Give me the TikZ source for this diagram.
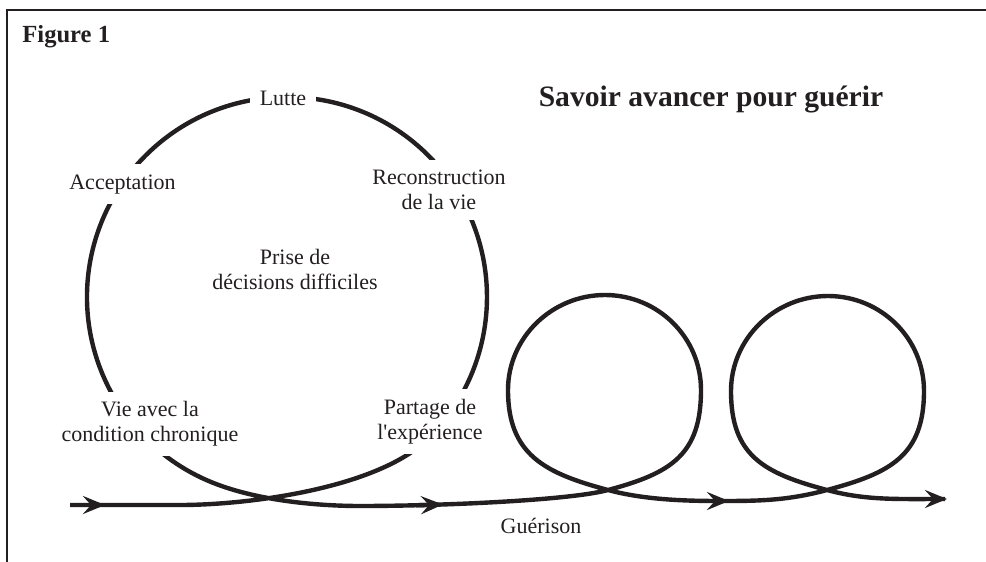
\documentclass[tikz,border=0pt]{standalone}
\usepackage{fontspec}
\setmainfont{Liberation Serif}
\usetikzlibrary{arrows.meta}
\definecolor{ink}{RGB}{35,31,32}
\begin{document}
\begin{tikzpicture}[x=0.5pt,y=-0.5pt,
  flow/.style={draw=ink, line width=2.2pt, line join=round},
  tipseg/.style={draw=ink, line width=2.2pt, -{Stealth[length=11pt,width=9pt,inset=4pt]}},
  lbl/.style={font=\fontsize{11}{12.5}\selectfont, text=ink, fill=white, inner sep=5pt, align=center},
  plain/.style={font=\fontsize{11}{12.5}\selectfont, text=ink, inner sep=0pt, align=center},
  frameline/.style={draw=ink, line width=1pt}]
\useasboundingbox (0,0) rectangle (986,562);
% frame
\coordinate (ftr) at (986,10);
\coordinate (ftl) at (7,10);
\coordinate (fbl) at (7,562);
\draw[frameline] (ftr) -- (ftl) -- (fbl);
% key points of the flow line
\coordinate (start) at (70,505);
\coordinate (s1) at (180,505);
\coordinate (join) at (428.4,438.4);
\coordinate (b1) at (360,506);
\coordinate (X1) at (608,490);
\coordinate (R1) at (701,390);
\coordinate (T1) at (605,295);
\coordinate (L1) at (508,390);
\coordinate (m2) at (722,501);
\coordinate (X2) at (827,490);
\coordinate (R2) at (924,391);
\coordinate (T2) at (828,296);
\coordinate (L2) at (731,391);
\coordinate (endp) at (945,499);
\draw[flow] (start) -- (s1)
  .. controls (250,505) and (378.9,487.9) .. (join)
  arc[start angle=45, end angle=-248, radius=200]
  .. controls (258.4,501.2) and (320,506) .. (b1)
  .. controls (440,506) and (569.4,500.4) .. (X1)
  .. controls (670.8,473.2) and (701,455) .. (R1)
  .. controls (701,337.5) and (658,295) .. (T1)
  .. controls (552,295) and (508,337.5) .. (L1)
  .. controls (508,455) and (545.2,473.2) .. (X1)
  .. controls (646.6,500.4) and (690,501) .. (m2)
  .. controls (760,501) and (788.4,500.4) .. (X2)
  .. controls (889.8,473.2) and (924,456) .. (R2)
  .. controls (924,338.5) and (881,296) .. (T2)
  .. controls (775,296) and (731,338.5) .. (L2)
  .. controls (731,456) and (764.2,473.2) .. (X2)
  .. controls (865.6,500.4) and (895,499) .. (endp);
% arrow heads along the line
\coordinate (a1s) at (78,505);   \coordinate (a1e) at (105,505);
\coordinate (a2s) at (416,505.3); \coordinate (a2e) at (443,504.5);
\coordinate (a3s) at (702,501);  \coordinate (a3e) at (729,501);
\coordinate (a4s) at (920,499);  \coordinate (a4e) at (947,499);
\draw[tipseg] (a1s) -- (a1e);
\draw[tipseg] (a2s) -- (a2e);
\draw[tipseg] (a3s) -- (a3e);
\draw[tipseg] (a4s) -- (a4e);
% labels
\node[lbl, anchor=base] (lutte) at (283,105) {Lutte};
\node[lbl, anchor=base] (accept) at (122.5,189) {Acceptation};
\node[lbl] (recon) at (439,190) {Reconstruction\\de la vie};
\node[lbl] (prise) at (295,269) {Prise de\\décisions difficiles};
\node[lbl] (vie) at (150,424) {Vie avec la\\condition chronique};
\node[lbl] (partage) at (430,421.5) {Partage de\\l\textquotesingle expérience};
\node[plain, anchor=base] (guer) at (541,533) {Guérison};
\node[plain, anchor=base west, font=\fontsize{12.3}{14}\selectfont\bfseries] (fig) at (22,42) {Figure 1};
\node[plain, anchor=base, font=\fontsize{14.8}{17}\selectfont\bfseries] (title) at (711,106) {Savoir avancer pour guérir};
\end{tikzpicture}
\end{document}
